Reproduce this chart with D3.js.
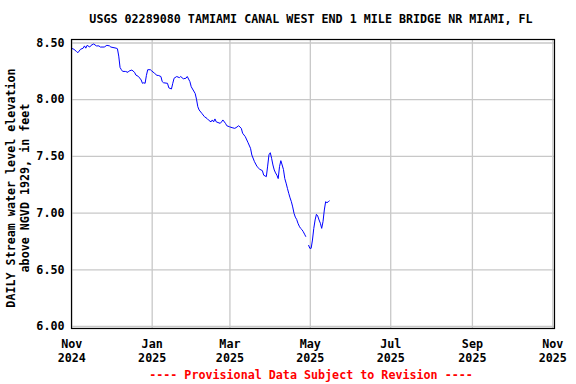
<!DOCTYPE html>
<html>
<head>
<meta charset="utf-8">
<script src="https://cdn.jsdelivr.net/npm/d3@7"></script>
<style>
  html, body { margin: 0; padding: 0; background: #fff; }
  svg { display: block; }
  text { font-family: "DejaVu Sans Mono", "Liberation Mono", monospace; font-weight: bold; }
</style>
</head>
<body>
<svg id="chart" width="576" height="384"></svg>
<script>
const titleText = "USGS 02289080 TAMIAMI CANAL WEST END 1 MILE BRIDGE NR MIAMI, FL";
const yLabelLines = ["DAILY Stream water level elevation", "above NGVD 1929, in feet"];
const footerText = "---- Provisional Data Subject to Revision ----";

const yTicks = [6.0, 6.5, 7.0, 7.5, 8.0, 8.5];
const xTickDates = ["2024-11-01", "2025-01-01", "2025-03-01", "2025-05-01", "2025-07-01", "2025-09-01", "2025-11-01"];
const xTickLabels = [["Nov", "2024"], ["Jan", "2025"], ["Mar", "2025"], ["May", "2025"], ["Jul", "2025"], ["Sep", "2025"], ["Nov", "2025"]];

const dates = [
  "2024-11-01","2024-11-03","2024-11-05","2024-11-06","2024-11-08","2024-11-10","2024-11-11","2024-11-12",
  "2024-11-13","2024-11-15","2024-11-16","2024-11-18","2024-11-20","2024-11-22","2024-11-23","2024-11-26",
  "2024-11-28","2024-11-30","2024-12-01","2024-12-05","2024-12-06","2024-12-07","2024-12-08","2024-12-09",
  "2024-12-10","2024-12-12","2024-12-14","2024-12-15","2024-12-17","2024-12-19","2024-12-20","2024-12-22",
  "2024-12-24","2024-12-25","2024-12-26","2024-12-27","2024-12-28","2024-12-29","2024-12-31","2025-01-01",
  "2025-01-03","2025-01-05","2025-01-06","2025-01-08","2025-01-09","2025-01-10","2025-01-13","2025-01-14",
  "2025-01-16","2025-01-17","2025-01-18","2025-01-20","2025-01-22","2025-01-23","2025-01-25","2025-01-27",
  "2025-01-28","2025-01-30","2025-01-31","2025-02-01","2025-02-03","2025-02-04","2025-02-05","2025-02-06",
  "2025-02-08","2025-02-10","2025-02-12","2025-02-13","2025-02-15","2025-02-16","2025-02-17","2025-02-18",
  "2025-02-19","2025-02-22","2025-02-23","2025-02-24","2025-02-26","2025-02-27","2025-03-01","2025-03-03",
  "2025-03-05","2025-03-06","2025-03-08","2025-03-10","2025-03-11","2025-03-13","2025-03-15","2025-03-17",
  "2025-03-18","2025-03-20","2025-03-22","2025-03-24","2025-03-26","2025-03-27","2025-03-29","2025-03-30",
  "2025-03-31","2025-04-01","2025-04-02","2025-04-03","2025-04-04","2025-04-05","2025-04-06","2025-04-07",
  "2025-04-08","2025-04-09","2025-04-10","2025-04-11","2025-04-12","2025-04-13","2025-04-14","2025-04-15",
  "2025-04-16","2025-04-17","2025-04-18","2025-04-19","2025-04-20","2025-04-21","2025-04-22","2025-04-23",
  "2025-04-24","2025-04-25","2025-04-26","2025-04-27","2025-04-28","2025-04-29","2025-04-30","2025-05-01",
  "2025-05-02","2025-05-03","2025-05-04","2025-05-05","2025-05-06","2025-05-07","2025-05-08","2025-05-09",
  "2025-05-10","2025-05-11","2025-05-12","2025-05-13","2025-05-14","2025-05-15","2025-05-16"
];
const values = [
  8.45, 8.44, 8.42, 8.41, 8.44, 8.45, 8.47, 8.45,
  8.475, 8.46, 8.475, 8.487, 8.47, 8.47, 8.46, 8.46,
  8.475, 8.47, 8.46, 8.45, 8.445, 8.38, 8.28, 8.26,
  8.245, 8.245, 8.237, 8.25, 8.257, 8.237, 8.213, 8.20,
  8.17, 8.14, 8.145, 8.14, 8.21, 8.26, 8.26, 8.25,
  8.23, 8.21, 8.21, 8.20, 8.155, 8.145, 8.14, 8.10,
  8.09, 8.14, 8.185, 8.20, 8.19, 8.20, 8.18, 8.185,
  8.20, 8.155, 8.11, 8.09, 8.05, 8.00, 7.934, 7.905,
  7.876, 7.846, 7.83, 7.817, 7.80, 7.817, 7.80, 7.826,
  7.80, 7.787, 7.80, 7.817, 7.787, 7.766, 7.757, 7.749,
  7.743, 7.749, 7.766, 7.743, 7.70, 7.67, 7.62, 7.567,
  7.508, 7.449, 7.405, 7.382, 7.37, 7.33, 7.317, 7.41,
  7.51, 7.528, 7.479, 7.42, 7.376, 7.35, 7.33, 7.30,
  7.405, 7.458, 7.42, 7.38, 7.30, 7.26, 7.214, 7.17,
  7.13, 7.096, 7.05, 6.994, 6.96, 6.94, 6.906, 6.88,
  6.861, 6.85, 6.832, 6.81, 6.787, null, 6.714, 6.685,
  6.685, 6.758, 6.86, 6.935, 6.985, 6.97, 6.935, 6.906,
  6.861, 6.92, 7.023, 7.096, 7.087, 7.096, 7.105
];

const parse = d3.utcParse("%Y-%m-%d");
const data = dates.map((d, i) => ({ date: parse(d), value: values[i] }));

const svg = d3.select("#chart");
svg.append("rect").attr("width", 576).attr("height", 384).attr("fill", "#fff");

const frame = { left: 71.5, top: 39.5, right: 554.5, bottom: 328.5 };

const x = d3.scaleUtc()
  .domain([parse("2024-11-01"), parse("2025-11-01")])
  .range([71.3, 552.3]);
const y = d3.scaleLinear()
  .domain([6.0, 8.5])
  .range([326, 42.5]);

const FS = 11.7;

// grid lines
const gridX = svg.append("g").attr("transform", `translate(0,${frame.bottom})`)
  .call(d3.axisBottom(x).tickValues(xTickDates.map(parse)).tickSize(-(frame.bottom - frame.top)).tickFormat(""));
gridX.select(".domain").remove();
gridX.selectAll("line").attr("stroke", "#c8c8c8").attr("stroke-width", 1.3);

const gridY = svg.append("g").attr("transform", `translate(${frame.left},0)`)
  .call(d3.axisLeft(y).tickValues(yTicks).tickSize(-(frame.right - frame.left)).tickFormat(""));
gridY.select(".domain").remove();
gridY.selectAll("line").attr("stroke", "#c8c8c8").attr("stroke-width", 1.3);

// data line
const line = d3.line()
  .defined(d => d.value != null)
  .x(d => x(d.date))
  .y(d => y(d.value));
svg.append("path")
  .datum(data)
  .attr("fill", "none")
  .attr("stroke", "#0000ff")
  .attr("stroke-width", 1)
  .attr("d", line);

// frame
svg.append("rect")
  .attr("x", frame.left).attr("y", frame.top)
  .attr("width", frame.right - frame.left).attr("height", frame.bottom - frame.top)
  .attr("fill", "none").attr("stroke", "#000").attr("stroke-width", 1.2);

// y tick labels
const yAxis = svg.append("g").attr("transform", `translate(${frame.left},0)`)
  .call(d3.axisLeft(y).tickValues(yTicks).tickSize(0).tickPadding(7).tickFormat(d3.format(".2f")));
yAxis.select(".domain").remove();
yAxis.selectAll("text")
  .attr("font-family", '"DejaVu Sans Mono", monospace')
  .attr("font-weight", "bold")
  .attr("font-size", FS)
  .attr("fill", "#000");

// x tick labels (two lines)
const xAxis = svg.append("g").attr("transform", `translate(0,${frame.bottom})`)
  .call(d3.axisBottom(x).tickValues(xTickDates.map(parse)).tickSize(0).tickFormat(""));
xAxis.select(".domain").remove();
xAxis.selectAll(".tick").each(function(d, i) {
  const t = d3.select(this).select("text")
    .attr("y", 0).attr("dy", null)
    .attr("font-family", '"DejaVu Sans Mono", monospace')
    .attr("font-weight", "bold")
    .attr("font-size", FS)
    .attr("fill", "#000")
    .attr("text-anchor", "middle");
  t.text(null);
  t.append("tspan").attr("x", 0).attr("y", 19).text(xTickLabels[i][0]);
  t.append("tspan").attr("x", 0).attr("y", 33).text(xTickLabels[i][1]);
});

// title
svg.append("text")
  .attr("x", 311).attr("y", 23)
  .attr("text-anchor", "middle")
  .attr("font-size", FS)
  .attr("fill", "#000")
  .text(titleText);

// y label
const yl = svg.append("text")
  .attr("transform", "translate(0,188) rotate(-90)")
  .attr("text-anchor", "middle")
  .attr("font-size", FS)
  .attr("fill", "#000");
yl.append("tspan").attr("x", 0).attr("y", 15).text(yLabelLines[0]);
yl.append("tspan").attr("x", 0).attr("y", 29).text(yLabelLines[1]);

// footer
svg.append("text")
  .attr("x", 311).attr("y", 379)
  .attr("text-anchor", "middle")
  .attr("font-size", FS)
  .attr("fill", "#ff0000")
  .text(footerText);
</script>
</body>
</html>
